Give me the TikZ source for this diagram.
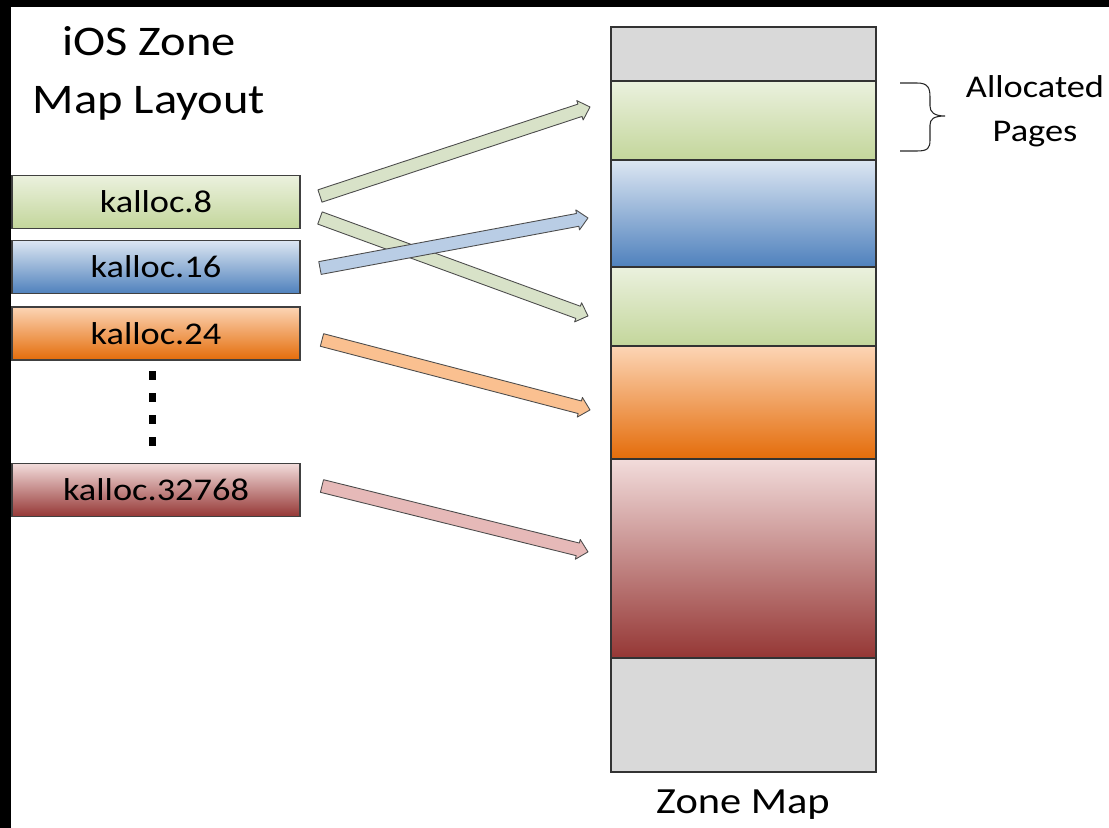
\documentclass[tikz,border=0pt]{standalone}
\usepackage{fontspec}
\setmainfont[FakeStretch=1.15]{Carlito}
\usetikzlibrary{calc,positioning}
\definecolor{gtop}{HTML}{EBF1DE}
\definecolor{gbot}{HTML}{C3D69B}
\definecolor{btop}{HTML}{DCE6F2}
\definecolor{bbot}{HTML}{4F81BD}
\definecolor{otop}{HTML}{FCD5B5}
\definecolor{obot}{HTML}{E46C0A}
\definecolor{rtop}{HTML}{F2DCDB}
\definecolor{rbot}{HTML}{953735}
\definecolor{emptyseg}{HTML}{D9D9D9}
\definecolor{garrow}{HTML}{D8E2C8}
\definecolor{barrow}{HTML}{B9CDE5}
\definecolor{oarrow}{HTML}{FAC090}
\definecolor{rarrow}{HTML}{E6B9B8}
\tikzset{
  box/.style={draw=black!75,line width=.7pt,minimum width=5.76cm,minimum height=1.06cm,
    inner sep=0pt,outer sep=0pt,font=\fontsize{18}{20}\selectfont},
  seg/.style={draw=black!80,line width=.8pt,minimum width=5.3cm,inner sep=0pt,outer sep=0pt},
}
% flat arrow with a small head, from #2 to #3
\newcommand\blockarrow[3]{%
  \coordinate (h) at ($(#3)!6pt!(#2)$);
  \filldraw[fill=#1,draw=black!70,line width=.5pt,line join=round]
    ($(#2)!3.7pt!90:(#3)$) -- ($(h)!3.7pt!90:(#3)$) -- ($(h)!5.8pt!90:(#3)$) -- (#3)
    -- ($(h)!5.8pt!-90:(#3)$) -- ($(h)!3.7pt!-90:(#3)$) -- ($(#2)!3.7pt!-90:(#3)$) -- cycle;
}

\begin{document}
\begin{tikzpicture}[x=.02cm,y=-.02cm]
    \useasboundingbox (0,0) rectangle (1109,828);
    \fill[black] (0,0) rectangle (1109,7);
    \fill[black] (0,0) rectangle (11,828);

    \node[align=center,font=\fontsize{24}{33}\selectfont] (title) at (149,73) {iOS Zone\\Map Layout};

    % size classes
    \node[box,top color=gtop,bottom color=gbot] (k8) at (156,202) {kalloc.8};
    \node[box,top color=btop,bottom color=bbot] (k16) at (156,267) {kalloc.16};
    \node[box,top color=otop,bottom color=obot] (k24) at (156,333.5) {kalloc.24};
    \node[box,top color=rtop,bottom color=rbot] (k32) at (156,490) {kalloc.32768};
    \foreach \y in {375,397,419,441}
        \fill (149,\y-4.5) rectangle +(7,9);

    % zone map
    \node[seg,fill=emptyseg,minimum height=1.08cm,anchor=north west] (z1) at (611,27) {};
    \node[seg,top color=gtop,bottom color=gbot,minimum height=1.58cm,below=0pt of z1] (z2) {};
    \node[seg,top color=btop,bottom color=bbot,minimum height=2.14cm,below=0pt of z2] (z3) {};
    \node[seg,top color=gtop,bottom color=gbot,minimum height=1.58cm,below=0pt of z3] (z4) {};
    \node[seg,top color=otop,bottom color=obot,minimum height=2.26cm,below=0pt of z4] (z5) {};
    \node[seg,top color=rtop,bottom color=rbot,minimum height=3.98cm,below=0pt of z5] (z6) {};
    \node[seg,fill=emptyseg,minimum height=2.28cm,below=0pt of z6] (z7) {};
    \node[font=\fontsize{21}{24}\selectfont] (zlabel) at (743,805) {Zone Map};

    \draw[black!85,line width=.6pt] (900,83) -- (917,83) .. controls (928,83) and (930,88) .. (930,97)
        -- (930,106) .. controls (930,112) and (934,116) .. (945,116)
        .. controls (934,116) and (930,119) .. (930,125) -- (930,140)
        .. controls (930,148) and (928,151) .. (917,151) -- (900,151);
    \node[align=center,font=\fontsize{18}{25}\selectfont] (alloc) at (1035,111) {Allocated\\Pages};

    \coordinate (s1) at ($(k8.east)+(20,-6)$);
    \coordinate (e1) at ($(z2.west)+(-21,-13.5)$);
    \coordinate (s2) at ($(k8.east)+(20,16)$);
    \coordinate (e2) at ($(z4.west)+(-23,9.5)$);
    \coordinate (s3) at ($(k16.east)+(20,1)$);
    \coordinate (e3) at ($(z3.west)+(-23,4.5)$);
    \coordinate (s4) at ($(k24.east)+(22,6.5)$);
    \coordinate (e4) at ($(z5.west)+(-21,7.5)$);
    \coordinate (s5) at ($(k32.east)+(22,-4)$);
    \coordinate (e5) at ($(z6.west)+(-23,-6.5)$);
    \blockarrow{garrow}{s1}{e1}
    \blockarrow{garrow}{s2}{e2}
    \blockarrow{barrow}{s3}{e3}
    \blockarrow{oarrow}{s4}{e4}
    \blockarrow{rarrow}{s5}{e5}
\end{tikzpicture}
\end{document}
